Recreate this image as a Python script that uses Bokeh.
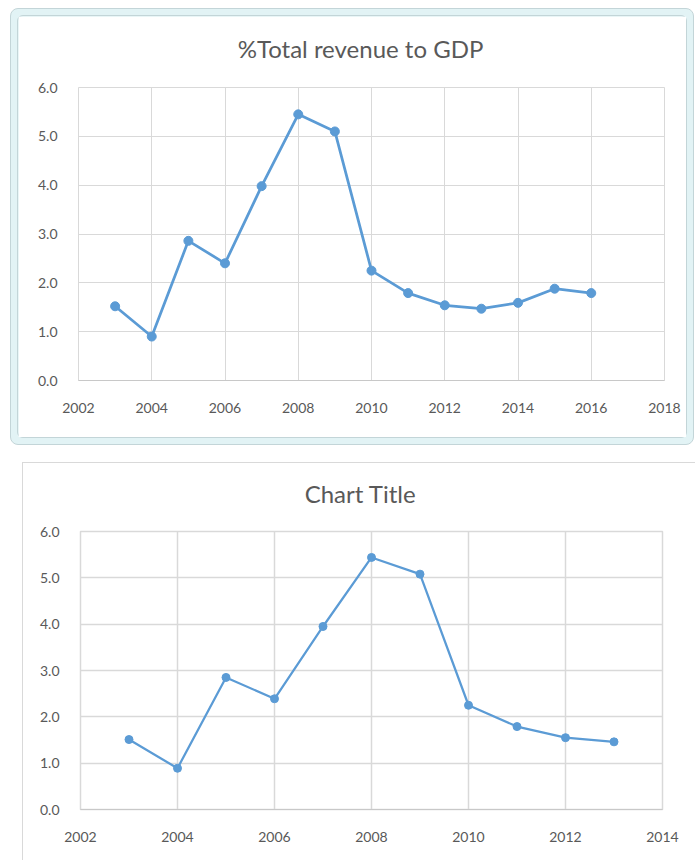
from bokeh.plotting import figure
from bokeh.layouts import column
from bokeh.models import NumeralTickFormatter, SingleIntervalTicker, Label
from bokeh.embed import file_html
from bokeh.resources import INLINE

# data
years = [2003, 2004, 2005, 2006, 2007, 2008, 2009, 2010, 2011, 2012, 2013, 2014, 2015, 2016]
revenue_pct = [1.52, 0.90, 2.86, 2.40, 3.98, 5.45, 5.10, 2.25, 1.79, 1.54, 1.47, 1.59, 1.88, 1.79]

years_b = [2003, 2004, 2005, 2006, 2007, 2008, 2009, 2010, 2011, 2012, 2013]
revenue_pct_b = [1.51, 0.89, 2.85, 2.39, 3.95, 5.44, 5.08, 2.25, 1.79, 1.55, 1.46]

title_top = "%Total revenue to GDP"
title_bottom = "Chart Title"

FONT = "Lato"
TXT = "#595959"
GRID = "#d9d9d9"
LINE = "#5b9bd5"


def style(p, grid_w):
    p.outline_line_color = GRID
    p.outline_line_width = grid_w
    for ax in (p.xaxis[0], p.yaxis[0]):
        ax.major_tick_line_color = None
        ax.minor_tick_line_color = None
        ax.major_label_text_font = FONT
        ax.major_label_text_font_size = "14px"
        ax.major_label_text_color = TXT
    p.xaxis[0].axis_line_color = "#c8c8c8"
    p.yaxis[0].axis_line_color = None
    p.xaxis[0].ticker = SingleIntervalTicker(interval=2)
    p.yaxis[0].ticker = SingleIntervalTicker(interval=1)
    p.yaxis[0].formatter = NumeralTickFormatter(format="0.0")
    p.xaxis[0].major_label_standoff = 16
    p.yaxis[0].major_label_standoff = 15
    p.xgrid.grid_line_color = GRID
    p.ygrid.grid_line_color = GRID
    p.xgrid.grid_line_width = grid_w
    p.ygrid.grid_line_width = grid_w
    p.background_fill_color = "white"
    p.border_fill_color = "white"


def add_title(p, text, cx, cy):
    p.add_layout(Label(x=cx, y=cy, x_units="canvas", y_units="canvas", text=text,
                       text_align="center", text_baseline="middle",
                       text_font=FONT, text_font_size="24px", text_color=TXT), "above")


p1 = figure(width=670, height=423, x_range=(2002, 2018), y_range=(0, 6),
            output_backend="svg", toolbar_location=None,
            min_border_left=60, min_border_right=24, min_border_top=71, min_border_bottom=59,
            styles={"border": "1px solid #c3d5d8", "border-radius": "6px"})
style(p1, 1)
add_title(p1, title_top, 341, 31)
p1.line(years, revenue_pct, line_color=LINE, line_width=2.75)
p1.scatter(years, revenue_pct, size=9, fill_color=LINE, line_color=LINE)

frame = column(p1, styles={"background-color": "#e2f3f5", "border": "1px solid #c3d5d8",
                           "border-radius": "8px", "padding": "6px",
                           "margin-left": "10px", "margin-top": "8px"})

p2 = figure(width=673, height=398, x_range=(2002, 2014), y_range=(0, 6),
            output_backend="svg", toolbar_location=None,
            min_border_left=57, min_border_right=34, min_border_top=68, min_border_bottom=52,
            styles={"border-left": "1px solid #d9d9d9", "border-top": "1px solid #d9d9d9",
                    "margin-left": "22px", "margin-top": "17px"})
style(p2, 1.5)
add_title(p2, title_bottom, 336, 29)
p2.line(years_b, revenue_pct_b, line_color=LINE, line_width=2.25)
p2.scatter(years_b, revenue_pct_b, size=8, fill_color=LINE, line_color=LINE)

layout = column(frame, p2)
open("out.html", "w").write(file_html(layout, INLINE))
